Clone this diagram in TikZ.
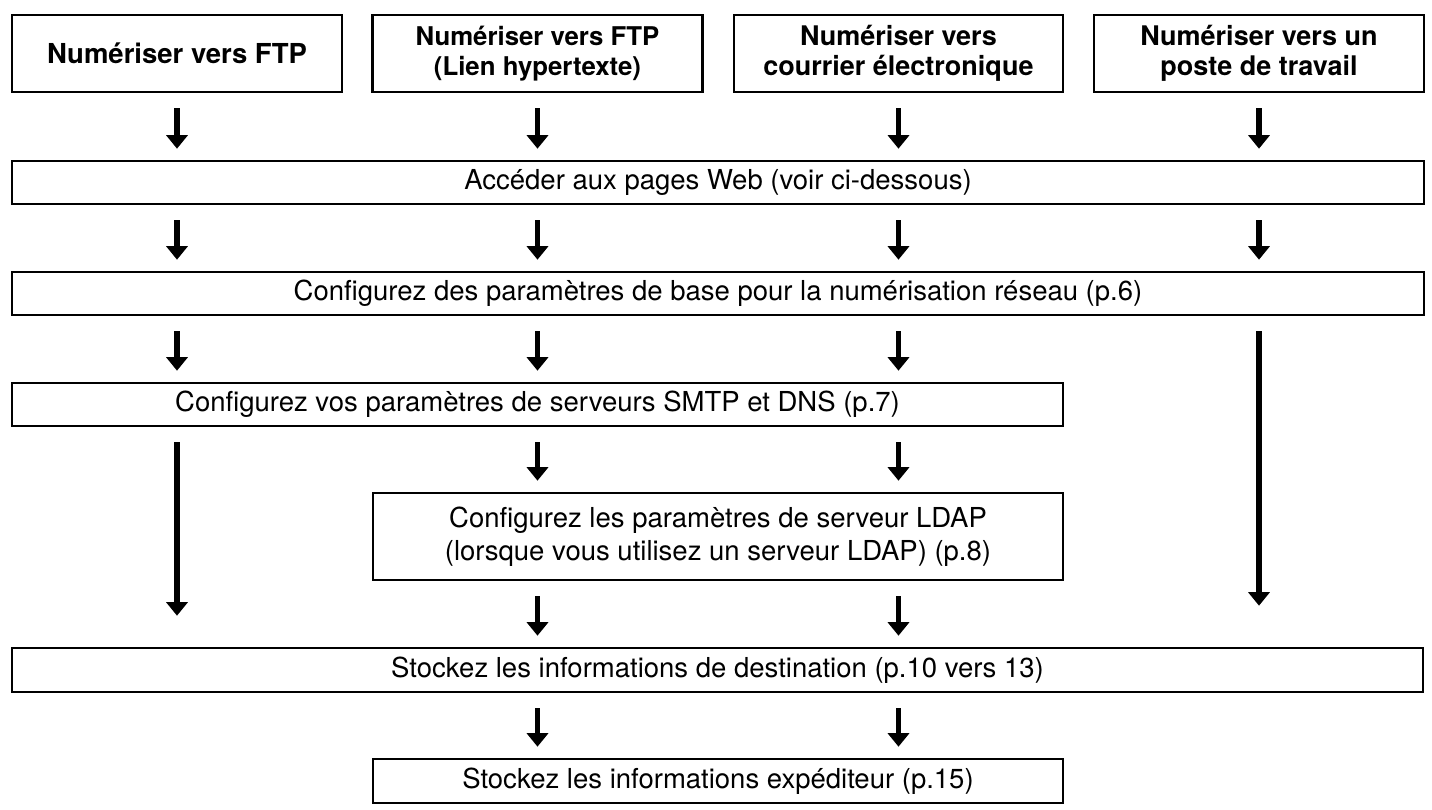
\documentclass[tikz,border=0pt]{standalone}
\usepackage{fontspec}
\setmainfont{TeX Gyre Heros}
\usetikzlibrary{arrows.meta}
\tikzset{
  box/.style={draw, line width=2.6pt, rectangle, inner sep=0pt, align=center,
    font=\fontsize{27.5}{32.5}\selectfont},
  topbox/.style={box, font=\fontsize{27.5}{30}\selectfont\bfseries, minimum width=330pt, minimum height=77pt},
  flow/.style={line width=5.5pt, -{Triangle[width=21pt,length=13.5pt]}, shorten <=15pt, shorten >=11pt}
}
\begin{document}
\begin{tikzpicture}[x=1pt,y=-1pt]
\useasboundingbox (0,0) rectangle (1432,809);
\node[topbox] (b1) at (177,53.5) {Numériser vers FTP};
\node[topbox, font=\fontsize{25.8}{29.5}\selectfont\bfseries] (b2) at (537.5,53.5) {Numériser vers FTP\\(Lien hypertexte)};
\node[topbox, minimum width=329pt, font=\fontsize{27}{30}\selectfont\bfseries] (b3) at (898.5,53.5) {Numériser vers\\courrier électronique};
\node[topbox, font=\fontsize{27}{30}\selectfont\bfseries] (b4) at (1259,53.5) {Numériser vers un\\poste de travail};
\node[box, minimum width=1412pt, minimum height=43pt] (acc) at (718,182.5) {Accéder aux pages Web (voir ci-dessous)};
\node[box, minimum width=1412pt, minimum height=43pt] (base) at (718,293.5) {Configurez des paramètres de base pour la numérisation réseau (p.6)};
\node[box, minimum width=1051pt, minimum height=43pt] (smtp) at (537.5,404.5) {Configurez vos paramètres de serveurs SMTP et DNS (p.7)};
\node[box, minimum width=690pt, minimum height=87pt] (ldap) at (718,536.5) {Configurez les paramètres de serveur LDAP\\(lorsque vous utilisez un serveur LDAP) (p.8)};
\node[box, minimum width=1411pt, minimum height=44pt] (dest) at (717.5,670) {Stockez les informations de destination (p.10 vers 13)};
\node[box, minimum width=690pt, minimum height=44pt] (exp) at (718,781) {Stockez les informations expéditeur (p.15)};
% row 1
\foreach \b in {b1,b2,b3,b4} \draw[flow] (\b.south) -- (\b.south |- acc.north);
% row 2
\foreach \b in {b1,b2,b3,b4} \draw[flow] (\b.south |- acc.south) -- (\b.south |- base.north);
% row 3
\foreach \b in {b1,b2,b3} \draw[flow] (\b.south |- base.south) -- (\b.south |- smtp.north);
\draw[flow, shorten >=41pt] (b4.south |- base.south) -- (b4.south |- dest.north);
% row 4
\draw[flow, shorten >=31pt] (b1.south |- smtp.south) -- (b1.south |- dest.north);
\foreach \b in {b2,b3} \draw[flow] (\b.south |- smtp.south) -- (\b.south |- ldap.north);
% row 5
\foreach \b in {b2,b3} \draw[flow] (\b.south |- ldap.south) -- (\b.south |- dest.north);
% row 6
\foreach \b in {b2,b3} \draw[flow] (\b.south |- dest.south) -- (\b.south |- exp.north);
\end{tikzpicture}
\end{document}
